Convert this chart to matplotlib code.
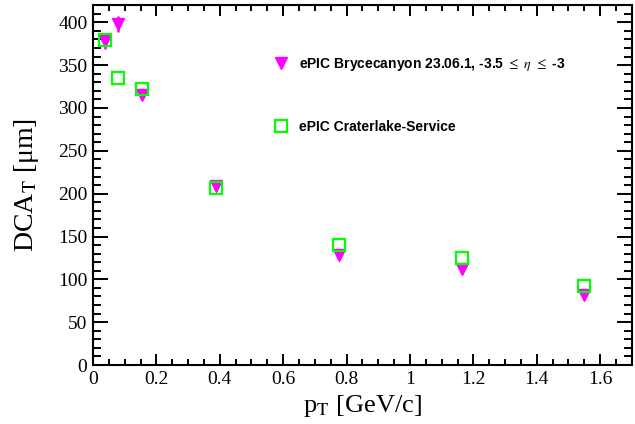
import numpy as np
import matplotlib
matplotlib.use("Agg")
import matplotlib.pyplot as plt
from matplotlib.lines import Line2D
from matplotlib.ticker import MultipleLocator

plt.rcParams["font.family"] = ["Liberation Serif", "DejaVu Serif"]
plt.rcParams["mathtext.fontset"] = "stix"

# ----- DATA -----
pt = [0.039, 0.0775, 0.155, 0.388, 0.775, 1.163, 1.55]  # GeV/c

dca_brycecanyon = [378, 398, 315, 209, 128, 112, 82]     # um
dca_brycecanyon_err = [9, 9, 3, 2, 2, 2, 2]
dca_craterlake = [379, 335, 322, 207, 140, 125, 92]      # um

label_bryce = r"ePIC Brycecanyon 23.06.1, -3.5 $\leq$ $\eta$ $\leq$ -3"
label_crater = "ePIC Craterlake-Service"

MAGENTA = "#ff00ff"
GREEN = "#00ff00"

# ----- PLOT -----
fig = plt.figure(figsize=(6.35, 4.24), dpi=100)
ax = fig.add_axes([0.1465, 0.139, 0.8485, 0.849])

ax.errorbar(pt, dca_brycecanyon, yerr=dca_brycecanyon_err, fmt="v",
            color=MAGENTA, ms=8, ecolor=MAGENTA, elinewidth=1.8,
            capsize=0, zorder=3)
ax.plot(pt, dca_craterlake, "s", ms=9, mfc="none", mec=GREEN, mew=1.6,
        zorder=4)

ax.set_xlim(0, 1.7)
ax.set_ylim(0, 420)

ax.xaxis.set_major_locator(MultipleLocator(0.2))
ax.xaxis.set_minor_locator(MultipleLocator(0.05))
ax.yaxis.set_major_locator(MultipleLocator(50))
ax.yaxis.set_minor_locator(MultipleLocator(10))
ax.xaxis.set_major_formatter(plt.FuncFormatter(lambda v, p: f"{v:g}"))

ax.tick_params(axis="both", which="both", direction="in", top=True,
               right=True, width=1.4, labelsize=14, colors="black")
ax.tick_params(axis="x", which="major", length=8, pad=4)
ax.tick_params(axis="x", which="minor", length=4)
ax.tick_params(axis="y", which="major", length=11, pad=4)
ax.tick_params(axis="y", which="minor", length=6)
for s in ax.spines.values():
    s.set_linewidth(1.5)

ax.set_xlabel(r"p$_{\mathrm{T}}$ [GeV/c]", fontsize=19, labelpad=4)
ax.set_ylabel(r"DCA$_{\mathrm{T}}$ [μm]", fontsize=20, labelpad=12)

# legend entries show only the markers
handles = [
    Line2D([], [], ls="none", marker="v", ms=8, color=MAGENTA),
    Line2D([], [], ls="none", marker="s", ms=9, mfc="none", mec=GREEN,
           mew=1.6),
]
ax.legend(handles, [label_bryce, label_crater],
          loc="upper left", bbox_to_anchor=(274 / 635, 1 - 56 / 424),
          bbox_transform=fig.transFigure, frameon=False,
          prop={"family": "Liberation Sans", "weight": "bold", "size": 10},
          labelspacing=3.4, handlelength=1.0, handletextpad=0.8,
          borderpad=0, borderaxespad=0)

fig.savefig("out.png", dpi=100)
